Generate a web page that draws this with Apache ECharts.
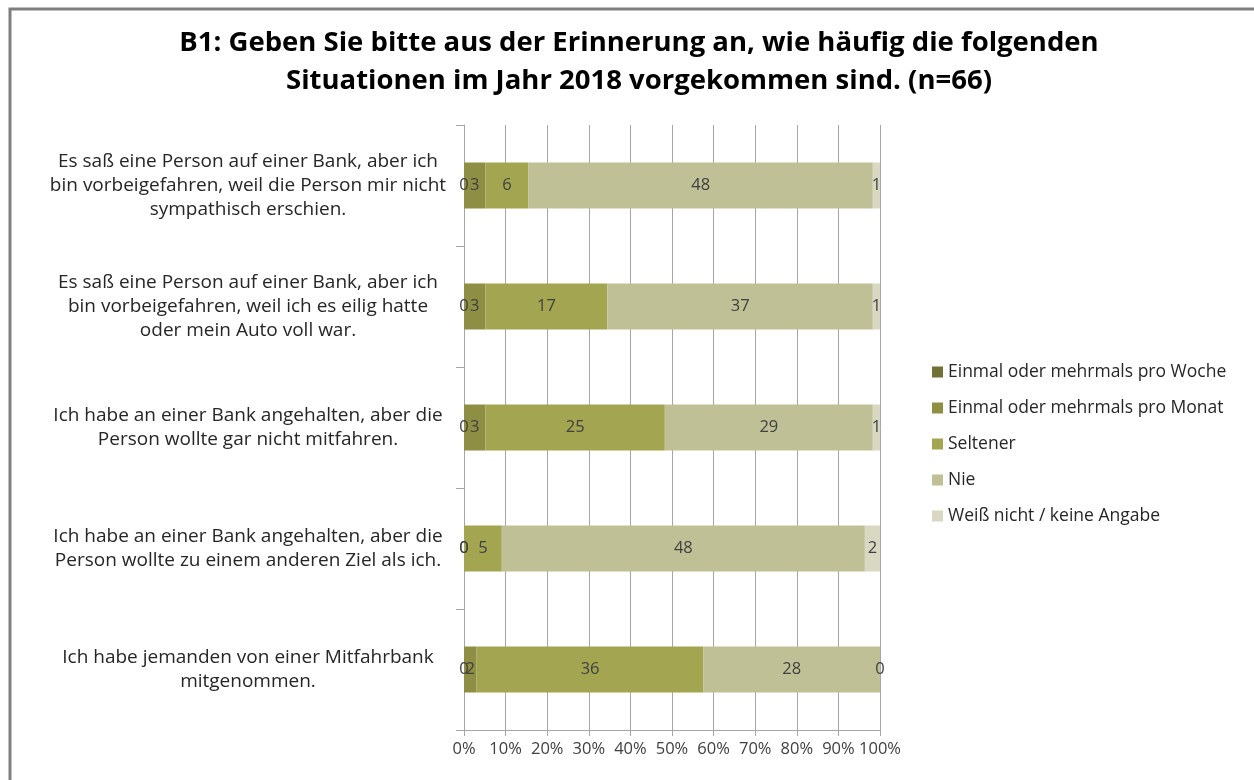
<!DOCTYPE html>
<html>
<head>
<meta charset="utf-8">
<title>B1 Mitfahrbank</title>
<script src="https://cdn.jsdelivr.net/npm/echarts@6/dist/echarts.min.js"></script>
<style>
  html, body { margin: 0; padding: 0; background: #fff; }
  #chart { width: 1254px; height: 780px; }
</style>
</head>
<body>
<div id="chart"></div>
<script>
// Kategorien (von oben nach unten)
const categories = [
    'Es saß eine Person auf einer Bank, aber ich\nbin vorbeigefahren, weil die Person mir nicht\nsympathisch erschien.',
    'Es saß eine Person auf einer Bank, aber ich\nbin vorbeigefahren, weil ich es eilig hatte\noder mein Auto voll war.',
    'Ich habe an einer Bank angehalten, aber die\nPerson wollte gar nicht mitfahren.',
    'Ich habe an einer Bank angehalten, aber die\nPerson wollte zu einem anderen Ziel als ich.',
    'Ich habe jemanden von einer Mitfahrbank\nmitgenommen.'
];

// Anzahl Nennungen je Antwort
const seriesNames = [
    'Einmal oder mehrmals pro Woche',
    'Einmal oder mehrmals pro Monat',
    'Seltener',
    'Nie',
    'Weiß nicht / keine Angabe'
];
const woche = [0, 0, 0, 0, 0];
const monat = [3, 3, 3, 0, 2];
const seltener = [6, 17, 25, 5, 36];
const nie = [48, 37, 29, 48, 28];
const weissNicht = [1, 1, 1, 2, 0];

const xTicks = [0, 10, 20, 30, 40, 50, 60, 70, 80, 90, 100];

const colors = ['#707234', '#8e8f45', '#a4a551', '#bfc096', '#d9d9c3'];
const FONT = 'Open Sans';

const allSeries = [woche, monat, seltener, nie, weissNicht];

// Zeilensummen -> 100%-Stapel
const rowTotals = categories.map((_, i) =>
    allSeries.reduce((sum, s) => sum + s[i], 0));

const chart = echarts.init(document.getElementById('chart'));

chart.setOption({
    animation: false,
    color: colors,
    title: {
        text: 'B1: Geben Sie bitte aus der Erinnerung an, wie häufig die folgenden\nSituationen im Jahr 2018 vorgekommen sind. (n=66)',
        left: 639,
        textAlign: 'center',
        top: 24,
        padding: 0,
        textStyle: {
            fontFamily: FONT,
            fontSize: 27.5,
            fontWeight: 'bold',
            color: '#000',
            lineHeight: 38
        }
    },
    graphic: [{
        type: 'rect',
        shape: { x: 10, y: 9, width: 1300, height: 820 },
        style: { fill: 'none', stroke: '#7f7f7f', lineWidth: 3 },
        silent: true
    }],
    legend: {
        orient: 'vertical',
        left: 927,
        top: 358,
        itemWidth: 11,
        itemHeight: 11,
        itemGap: 18,
        icon: 'rect',
        data: seriesNames,
        textStyle: {
            fontFamily: FONT,
            fontSize: 17.5,
            color: '#262626'
        }
    },
    grid: {
        left: 464,
        right: 374,
        top: 125,
        bottom: 50
    },
    xAxis: {
        type: 'value',
        min: xTicks[0],
        max: xTicks[xTicks.length - 1],
        interval: 10,
        axisLine: { show: true, lineStyle: { color: '#a6a6a6' } },
        axisTick: { show: true, length: 6, lineStyle: { color: '#a6a6a6' } },
        splitLine: { show: true, lineStyle: { color: '#a6a6a6', width: 1 } },
        axisLabel: {
            formatter: '{value}%',
            fontFamily: FONT,
            fontSize: 16.5,
            color: '#404040',
            margin: 11
        }
    },
    yAxis: {
        type: 'category',
        inverse: true,
        data: categories,
        axisLine: { show: true, lineStyle: { color: '#a6a6a6' } },
        axisTick: { show: true, length: 8, lineStyle: { color: '#a6a6a6' } },
        axisLabel: {
            align: 'center',
            margin: 216,
            fontFamily: FONT,
            fontSize: 19,
            lineHeight: 24,
            color: '#262626'
        }
    },
    series: allSeries.map((values, k) => ({
        name: seriesNames[k],
        type: 'bar',
        stack: 'total',
        barWidth: '38%',
        data: values.map((v, i) => v / rowTotals[i] * 100),
        label: {
            show: true,
            position: 'inside',
            fontFamily: FONT,
            fontSize: 16.5,
            color: '#404040',
            formatter: p => String(values[p.dataIndex])
        }
    }))
});
</script>
</body>
</html>
